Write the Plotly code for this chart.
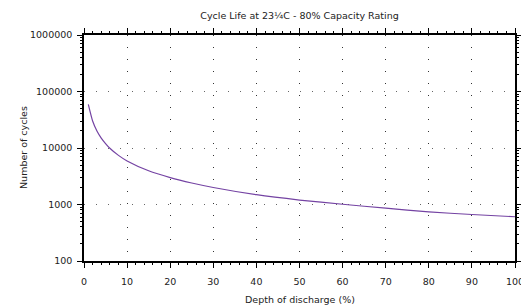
import plotly.graph_objects as go

dod = [1, 2, 3, 4, 5, 6, 8, 10, 15, 20, 25, 30, 40, 50, 60, 70, 80, 90, 100]
cycles = [59000, 30000, 20000, 15000, 12000, 9900, 7400, 5900, 3950, 2990, 2400,
          2000, 1490, 1200, 1010, 860, 740, 665, 607]
x_ticks = [0, 10, 20, 30, 40, 50, 60, 70, 80, 90, 100]
y_ticks = [100, 1000, 10000, 100000, 1000000]
y_labels = ["100", "1000", "10000", "100000", "1000000"]

title_text = "Cycle Life at 23¼C - 80% Capacity Rating"
x_title = "Depth of discharge (%)"
y_title = "Number of cycles"

W, H = 521, 308
L, R, T, B = 84, 6, 35, 47
FONT = "DejaVu Sans"

fig = go.Figure()
fig.add_trace(go.Scatter(x=dod, y=cycles, mode="lines",
                         line=dict(color="#7443a3", width=1.2, shape="spline", smoothing=0.6),
                         hoverinfo="skip", showlegend=False))

fig.update_layout(
    width=W, height=H,
    margin=dict(l=L, r=R, t=T, b=B, autoexpand=False),
    paper_bgcolor="white", plot_bgcolor="white",
    font=dict(family=FONT, size=9.5, color="#222"),
    title=dict(text=title_text, x=(L + (W - R)) / 2 / W, xanchor="center",
               y=1 - 15.5 / H, yanchor="middle", yref="container", automargin=False,
               font=dict(family=FONT, size=9.5, color="#222")),
    xaxis=dict(range=[0, 100], tickvals=x_ticks, ticktext=[str(v) for v in x_ticks],
               automargin=False, ticklabeloverflow="allow", ticklabelstandoff=6,
               showline=True, linecolor="black", linewidth=1.5, mirror="ticks",
               ticks="outside", ticklen=5, tickcolor="black", tickwidth=1,
               showgrid=True, gridcolor="#333", gridwidth=1, griddash="1px,11px",
               minor=dict(ticks="outside", ticklen=2, tickvals=list(range(2, 100, 2)),
                          tickcolor="black", showgrid=False),
               zeroline=False, fixedrange=True),
    yaxis=dict(type="log", range=[2, 6], tickvals=y_ticks, ticktext=y_labels,
               automargin=False, ticklabelstandoff=3,
               showline=True, linecolor="black", linewidth=1.5, mirror="ticks",
               ticks="outside", ticklen=5, tickcolor="black", tickwidth=1,
               showgrid=True, gridcolor="#666", gridwidth=1, griddash="1px,11px",
               minor=dict(ticks="outside", ticklen=2,
                          tickvals=[m * 10 ** e for e in range(2, 6) for m in range(2, 10)],
                          tickcolor="black", showgrid=False),
               zeroline=False, fixedrange=True),
    annotations=[
        dict(text=x_title, xref="paper", yref="paper", x=0.5, y=-38 / (H - T - B),
             xanchor="center", yanchor="middle", showarrow=False,
             font=dict(family=FONT, size=9.5, color="#222")),
        dict(text=y_title, xref="paper", yref="paper", x=-61 / (W - L - R), y=0.5,
             xanchor="center", yanchor="middle", textangle=-90, showarrow=False,
             font=dict(family=FONT, size=9.5, color="#222")),
    ],
)

fig.write_html("out.html", config={"displayModeBar": False},
               post_script="document.body.style.margin='0';document.body.style.overflow='hidden';")
